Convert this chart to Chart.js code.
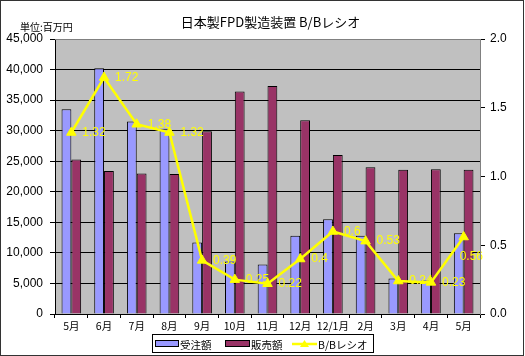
<!DOCTYPE html>
<html><head><meta charset="utf-8">
<script src="https://cdn.jsdelivr.net/npm/chart.js@4/dist/chart.umd.min.js"></script>
<style>html,body{margin:0;padding:0;background:#fff}#wrap{width:525px;height:356px;position:relative}</style>
</head><body><div id="wrap"><canvas id="c" width="525" height="356"></canvas></div>
<script>
// ---- data ----
const categories = ['5月','6月','7月','8月','9月','10月','11月','12月','12/1月','2月','3月','4月','5月'];
const orders = [33500, 40200, 31500, 30300, 11700, 8600, 8100, 12800, 15500, 12800, 5800, 5500, 13200];
const sales  = [25300, 23400, 23000, 22900, 29900, 36400, 37300, 31700, 26000, 24000, 23600, 23700, 23600];
const ratio  = [1.32, 1.72, 1.38, 1.32, 0.39, 0.25, 0.22, 0.4, 0.6, 0.53, 0.24, 0.23, 0.56];
const ratioLabels = ['1.32','1.72','1.38','1.32','0.39','0.25','0.22','0.4','0.6','0.53','0.24','0.23','0.56'];
const leftTicks  = [0, 5000, 10000, 15000, 20000, 25000, 30000, 35000, 40000, 45000];
const rightTicks = [0, 0.5, 1.0, 1.5, 2.0];
const seriesNames = ['受注額', '販売額', 'B/Bレシオ'];
const titleText = '日本製FPD製造装置 B/Bレシオ';
const unitText = '単位:百万円';

const NUM_FONT = '"Liberation Sans", Arial, sans-serif';
const JP_FONT = '"Noto Sans CJK JP", "Liberation Sans", sans-serif';

const decor = {
  id: 'decor',
  beforeDraw(chart) {
    const {ctx, chartArea: a} = chart;
    ctx.save();
    ctx.fillStyle = '#fff';
    ctx.fillRect(0, 0, chart.width, chart.height);
    ctx.fillStyle = '#C0C0C0';
    ctx.fillRect(a.left, a.top, a.right - a.left, a.bottom - a.top);
    ctx.restore();
  },
  afterDatasetsDraw(chart) {
    const {ctx, chartArea: a} = chart;
    const meta = chart.getDatasetMeta(2);
    ctx.save();
    ctx.font = '12px ' + NUM_FONT;
    ctx.fillStyle = '#FFFF00';
    ctx.textBaseline = 'middle';
    ctx.textAlign = 'left';
    meta.data.forEach((pt, i) => {
      const t = ratioLabels[i];
      const w = ctx.measureText(t).width;
      let x = pt.x + 11, y = pt.y;
      if (x + w > a.right + 3) { x = a.right + 3 - w; y += 20; }
      ctx.fillText(t, x, y);
    });
    ctx.restore();
  },
  afterDraw(chart) {
    const {ctx, chartArea: a} = chart;
    ctx.save();
    // plot border top/right
    ctx.strokeStyle = '#808080';
    ctx.lineWidth = 1;
    ctx.beginPath();
    ctx.moveTo(a.left, a.top + 0.5); ctx.lineTo(a.right + 0.5, a.top + 0.5); ctx.lineTo(a.right + 0.5, a.bottom);
    ctx.stroke();
    // outer border
    ctx.strokeStyle = '#333';
    ctx.strokeRect(0.5, 0.5, chart.width - 2, chart.height - 1);
    // title
    ctx.fillStyle = '#000';
    ctx.font = '13px ' + JP_FONT;
    ctx.textAlign = 'center';
    ctx.textBaseline = 'middle';
    ctx.fillText(titleText, (a.left + a.right) / 2 + 3, 22);
    ctx.font = '10px ' + JP_FONT;
    ctx.textAlign = 'left';
    ctx.fillText(unitText, 20, 27);
    // legend
    ctx.strokeStyle = '#000';
    ctx.strokeRect(152.5, 334.5, 221, 18);
    const cy = 344;
    ctx.fillStyle = '#9999FF';
    ctx.fillRect(155.5, cy - 3.5, 23, 6); ctx.strokeRect(155.5, cy - 3.5, 23, 6);
    ctx.fillStyle = '#993366';
    ctx.fillRect(225.5, cy - 3.5, 24, 6); ctx.strokeRect(225.5, cy - 3.5, 24, 6);
    ctx.strokeStyle = '#FFFF00'; ctx.lineWidth = 2.5;
    ctx.beginPath(); ctx.moveTo(292, cy); ctx.lineTo(317, cy); ctx.stroke();
    ctx.fillStyle = '#FFFF00';
    ctx.beginPath(); ctx.moveTo(304.5, cy - 4); ctx.lineTo(309, cy + 3); ctx.lineTo(300, cy + 3); ctx.closePath(); ctx.fill();
    ctx.fillStyle = '#000';
    ctx.font = '10.5px ' + JP_FONT;
    ctx.textBaseline = 'middle';
    ctx.fillText(seriesNames[0], 180, cy + 1);
    ctx.fillText(seriesNames[1], 251, cy + 1);
    ctx.fillText(seriesNames[2], 318, cy + 1);
    ctx.restore();
  }
};

new Chart(document.getElementById('c'), {
  data: {
    labels: categories,
    datasets: [
      { type: 'bar', label: seriesNames[0], data: orders, yAxisID: 'y', backgroundColor: '#9999FF', borderColor: '#000', borderWidth: 1, categoryPercentage: 0.6, barPercentage: 1.0, order: 2 },
      { type: 'bar', label: seriesNames[1], data: sales, yAxisID: 'y', backgroundColor: '#993366', borderColor: '#000', borderWidth: 1, categoryPercentage: 0.6, barPercentage: 1.0, order: 2 },
      { type: 'line', label: seriesNames[2], data: ratio, yAxisID: 'y2', borderColor: '#FFFF00', backgroundColor: '#FFFF00', borderWidth: 2.5, pointStyle: 'triangle', pointRadius: 5.5, pointBackgroundColor: '#FFFF00', pointBorderColor: '#FFFF00', pointBorderWidth: 1, tension: 0, fill: false, order: 0 }
    ]
  },
  options: {
    responsive: false,
    animation: false,
    devicePixelRatio: 1,
    layout: { padding: { top: 39, bottom: 18, left: 0, right: 0 } },
    plugins: { legend: { display: false }, title: { display: false }, tooltip: { enabled: false } },
    scales: {
      x: {
        offset: true,
        grid: { offset: true, drawOnChartArea: false, tickLength: 4, color: '#000', tickColor: '#000' },
        border: { color: '#000', width: 1 },
        ticks: { color: '#000', font: { family: JP_FONT, size: 10.5 }, padding: 2, maxRotation: 0, autoSkip: false },
        afterFit: s => { s.height = 24; }
      },
      y: {
        position: 'left', min: 0, max: 45000,
        afterBuildTicks: s => { s.ticks = leftTicks.map(v => ({ value: v })); },
        ticks: { color: '#000', font: { family: NUM_FONT, size: 12 }, padding: 7, callback: v => v.toLocaleString('en-US') },
        grid: { color: ctx => (ctx.tick && ctx.tick.value === 45000) ? '#808080' : '#000', tickColor: '#000', tickLength: 5 },
        border: { color: '#000', width: 1 },
        afterFit: s => { s.width = 55; }
      },
      y2: {
        position: 'right', min: 0, max: 2,
        afterBuildTicks: s => { s.ticks = rightTicks.map(v => ({ value: v })); },
        ticks: { color: '#000', font: { family: NUM_FONT, size: 12 }, padding: 5, callback: v => Number(v).toFixed(1) },
        grid: { drawOnChartArea: false, tickColor: '#000', tickLength: 5 },
        border: { color: '#808080', width: 1 },
        afterFit: s => { s.width = 45; }
      }
    }
  },
  plugins: [decor]
});
</script>
</body></html>
